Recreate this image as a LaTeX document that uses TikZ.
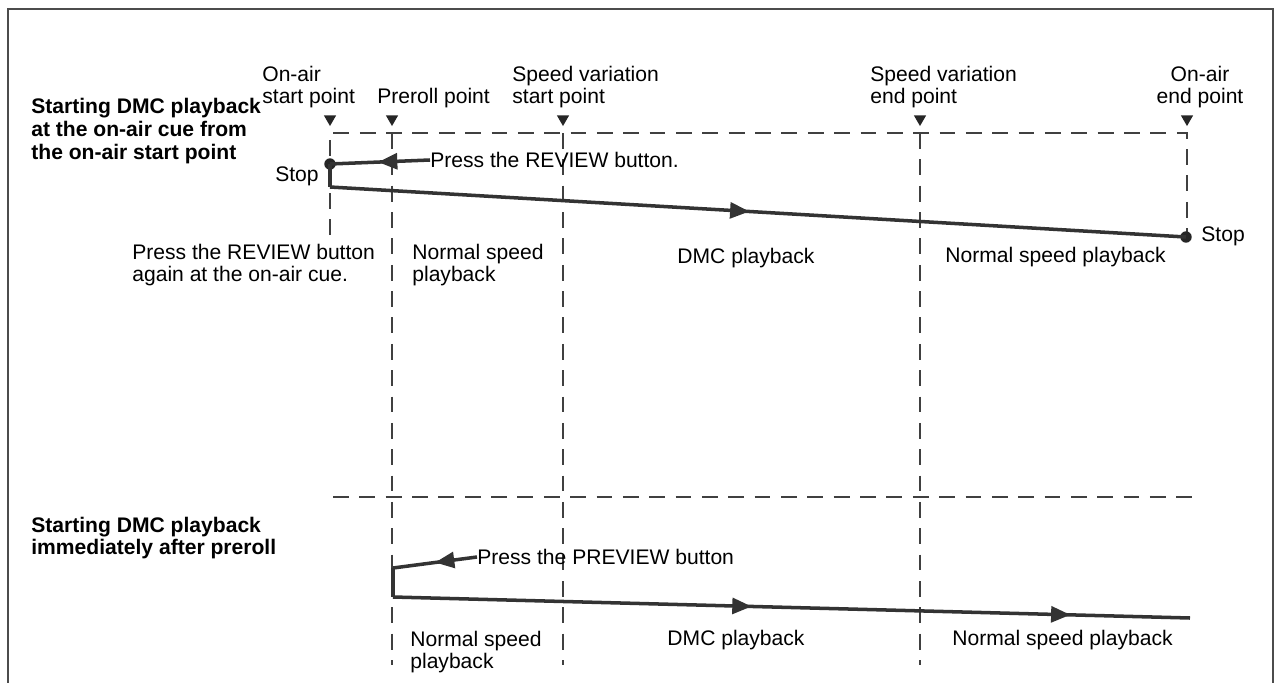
\documentclass[tikz,border=0pt]{standalone}
\usepackage{fontspec}
\setmainfont{Liberation Sans}
\usepackage{tikz}
\usetikzlibrary{arrows.meta, shapes.geometric, decorations.markings}

\begin{document}
\begin{tikzpicture}[
    x=0.02cm, y=-0.02cm,
    lbl/.style={inner sep=0, align=left, font=\fontsize{12}{13}\selectfont},
    head/.style={inner sep=0, align=left, font=\bfseries\fontsize{12}{13}\selectfont},
    guide/.style={line width=0.8pt, black!75, dash pattern=on 9pt off 6pt},
    track/.style={line width=2pt, black!80},
    pointer/.style={regular polygon, regular polygon sides=3, shape border rotate=180, fill=black!85, inner sep=0, minimum size=8pt},
    stopdot/.style={circle, fill=black!85, inner sep=0, minimum size=6.5pt},
    fwd/.style={postaction={decorate}, decoration={markings, mark=at position #1 with {\arrow{Triangle[length=11pt,width=9pt]}}}},
    fwdtwo/.style 2 args={postaction={decorate}, decoration={markings,
        mark=at position #1 with {\arrow{Triangle[length=11pt,width=9pt]}},
        mark=at position #2 with {\arrow{Triangle[length=11pt,width=9pt]}}}}
]
    \useasboundingbox (0,0) rectangle (1275,683);

    % Frame
    \draw[line width=1.2pt, black!70] (8,683) |- (1273,9) -- (1273,683);

    % Time points
    \coordinate (onStartTop) at (330,133);
    \coordinate (onStartBot) at (330,235);
    \coordinate (prerollTop) at (392,133);
    \coordinate (prerollBot) at (392,665);
    \coordinate (spdStartTop) at (563,133);
    \coordinate (spdStartBot) at (563,665);
    \coordinate (spdEndTop) at (920,133);
    \coordinate (spdEndBot) at (920,665);
    \coordinate (onEndTop) at (1187,133);
    \coordinate (onEndBot) at (1187,232);

    \node[pointer] (mkOnStart) at (330,119) {};
    \node[pointer] (mkPreroll) at (392,119) {};
    \node[pointer] (mkSpdStart) at (563,119) {};
    \node[pointer] (mkSpdEnd) at (920,119) {};
    \node[pointer] (mkOnEnd) at (1187,119) {};

    \node[lbl, anchor=west] (lOnStart) at (262,87) {On-air\\start point};
    \node[lbl, anchor=west] (lPreroll) at (377,98) {Preroll point};
    \node[lbl, anchor=west] (lSpdStart) at (512,87) {Speed variation\\start point};
    \node[lbl, anchor=west] (lSpdEnd) at (870,87) {Speed variation\\end point};
    \node[lbl, align=center] (lOnEnd) at (1200,87) {On-air\\end point};

    % Guide lines
    \draw[guide] (onStartBot) -- (onStartTop) -- (onEndTop) -- (onEndBot);
    \draw[guide] (prerollTop) -- (prerollBot);
    \draw[guide] (spdStartTop) -- (spdStartBot);
    \draw[guide] (spdEndTop) -- (spdEndBot);
    \coordinate (sepL) at (333,497);
    \coordinate (sepR) at (1195,497);
    \draw[guide] (sepL) -- (sepR);

    % Case 1: on-air cue
    \node[head, anchor=west] (hdCue) at (31,131) {Starting DMC playback\\at the on-air cue from\\the on-air start point};
    \node[stopdot] (stopA) at (330,164) {};
    \coordinate (cornerA) at (330,187);
    \node[stopdot] (stopB) at (1186,237) {};
    \node[lbl, anchor=east] (stopAtxt) at (319,176) {Stop};
    \node[lbl, anchor=west] (stopBtxt) at (1201,236) {Stop};
    \node[lbl, anchor=west] (review) at (430,160) {Press the REVIEW button.};
    \draw[track, fwd=0.52] (review.west) -- (stopA.center);
    \draw[track] (stopA.center) -- (cornerA);
    \draw[track, fwd=0.49] (cornerA) -- (stopB.center);

    \node[lbl, anchor=west] (again) at (132,265) {Press the REVIEW button\\again at the on-air cue.};
    \node[lbl, anchor=west] (normA) at (412,265) {Normal speed\\playback};
    \node[lbl] (dmcA) at (746,258) {DMC playback};
    \node[lbl, anchor=west] (normA2) at (945,257) {Normal speed playback};

    % Case 2: after preroll
    \node[head, anchor=west] (hdPre) at (31,538) {Starting DMC playback\\immediately after preroll};
    \coordinate (pvTop) at (393,568);
    \coordinate (pvCorner) at (393,597);
    \coordinate (pvEnd) at (1190,618);
    \node[lbl, anchor=west] (preview) at (477,557) {Press the PREVIEW button};
    \draw[track, fwd=0.5] (preview.west) -- (pvTop);
    \draw[track] (pvTop) -- (pvCorner);
    \draw[track, fwdtwo={0.45}{0.85}] (pvCorner) -- (pvEnd);

    \node[lbl, anchor=west] (normB) at (410,652) {Normal speed\\playback};
    \node[lbl] (dmcB) at (736,640) {DMC playback};
    \node[lbl, anchor=west] (normB2) at (952,640) {Normal speed playback};
\end{tikzpicture}
\end{document}
